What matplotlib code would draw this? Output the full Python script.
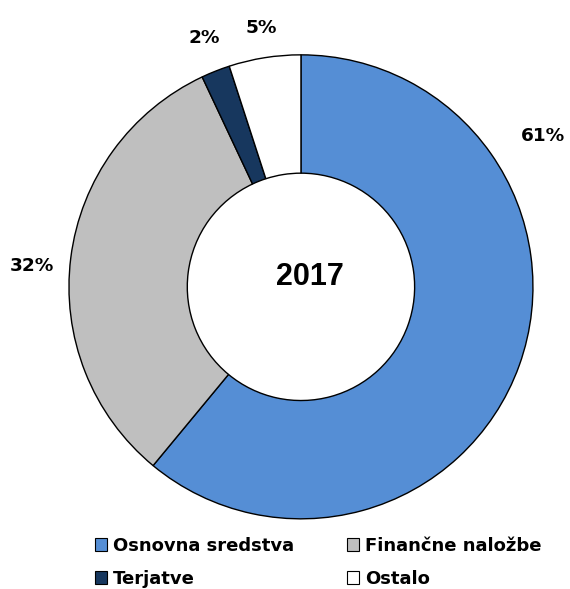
import matplotlib.pyplot as plt
from matplotlib.patches import Patch

# data
categories = ['Osnovna sredstva', 'Finančne naložbe', 'Terjatve', 'Ostalo']
shares = [61, 32, 2, 5]
colors = ['#558ED5', '#BFBFBF', '#17375E', '#FFFFFF']
pct_labels = ['61%', '32%', '2%', '5%']
center_label = '2017'

fig = plt.figure(figsize=(5.7, 5.89), dpi=100)
ax = fig.add_axes([0.121, 0.119, 0.814, 0.788])

ax.pie(shares, colors=colors, startangle=90, counterclock=False, radius=1,
       wedgeprops=dict(width=0.51, edgecolor='black', linewidth=1.0))
ax.set_xlim(-1, 1)
ax.set_ylim(-1, 1)
ax.set_aspect('equal')
ax.axis('off')

# percentage labels (placed like the excel "best fit")
label_pos = [(1.043, 0.651), (-1.159, 0.091), (-0.418, 1.073), (-0.172, 1.116)]
for txt, (x, y) in zip(pct_labels, label_pos):
    ax.text(x, y, txt, ha='center', va='center', fontsize=13.3,
            fontweight='bold', family='DejaVu Sans', clip_on=False)

ax.text(0.039, 0.043, center_label, ha='center', va='center', fontsize=22,
        fontweight='bold', family='Liberation Sans')

# legend, filled column-wise
order = [0, 2, 1, 3]
handles = [Patch(facecolor=colors[i], edgecolor='black', linewidth=0.8,
                 label=categories[i]) for i in order]
fig.legend(handles=handles, loc='center', bbox_to_anchor=(0.5576, 0.0453), ncol=2,
           frameon=False, handlelength=0.7, handleheight=0.7, handletextpad=0.3,
           columnspacing=2.93, labelspacing=0.8,
           prop=dict(family='DejaVu Sans', weight='bold', size=13))

fig.savefig('out.png', dpi=100)
